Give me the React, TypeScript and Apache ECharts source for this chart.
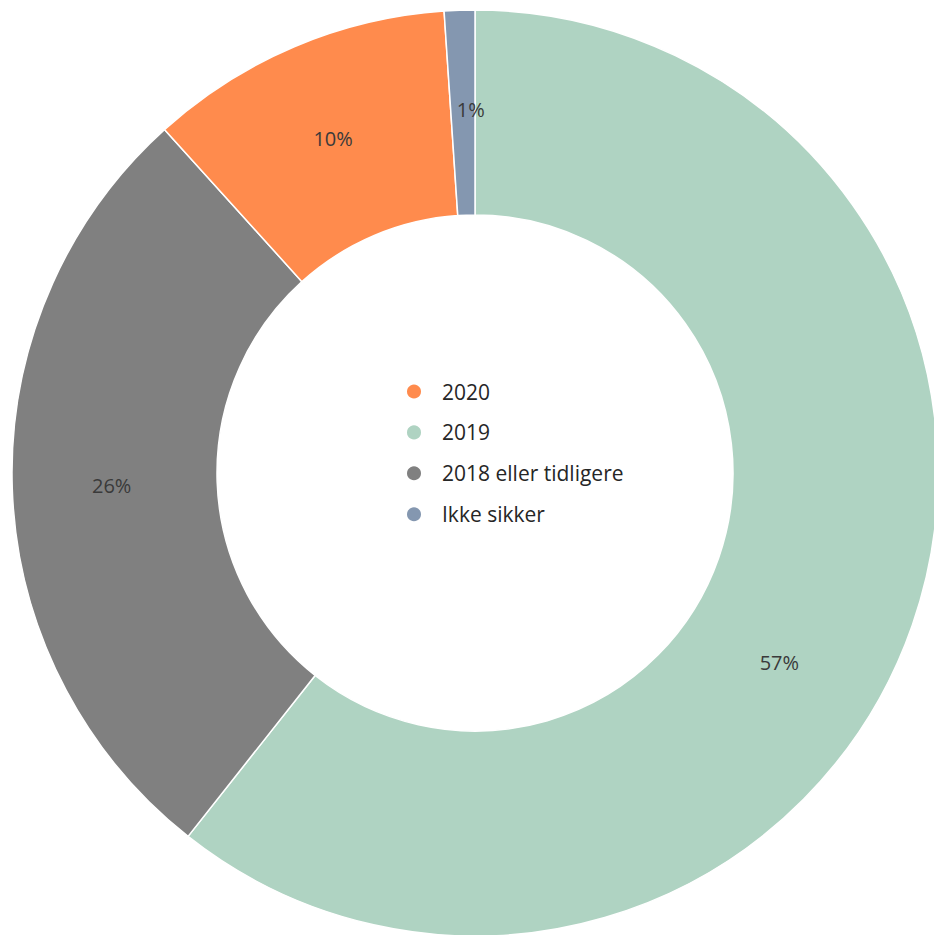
import React, { useEffect, useRef } from "react";
import * as echarts from "echarts";

const categories = ["2019", "2018 eller tidligere", "2020", "Ikke sikker"];
const values = [57, 26, 10, 1];
const legendOrder = ["2020", "2019", "2018 eller tidligere", "Ikke sikker"];
const colors = ["#AFD3C2", "#808080", "#FF8B4D", "#8497B0"];

export default function App() {
  const ref = useRef<HTMLDivElement>(null);
  useEffect(() => {
    document.body.style.margin = "0";
    const chart = echarts.init(ref.current!, null, { renderer: "svg" });
    chart.setOption({
      animation: false,
      backgroundColor: "#ffffff",
      legend: {
        data: legendOrder,
        orient: "vertical",
        left: 405,
        top: 381,
        padding: 0,
        icon: "circle",
        itemWidth: 16,
        itemHeight: 16,
        itemGap: 19.9,
        textStyle: {
          fontFamily: "Open Sans",
          fontSize: 21,
          lineHeight: 20,
          color: "#262626",
          padding: [0, 0, 0, 15],
        },
      },
      series: [
        {
          type: "pie",
          center: [475, 473],
          radius: [258, 463],
          startAngle: 90,
          clockwise: true,
          avoidLabelOverlap: false,
          itemStyle: { borderColor: "#ffffff", borderWidth: 1.5 },
          label: {
            show: true,
            position: "inside",
            formatter: (p: any) => p.value + "%",
            fontFamily: "Open Sans",
            fontSize: 20,
            color: "#3a3a3a",
          },
          labelLayout: (p: any) =>
            p.dataIndex === 0 ? { dx: -39, dy: 70 } : p.dataIndex === 3 ? { dx: 8 } : {},
          labelLine: { show: false },
          emphasis: { disabled: true },
          data: categories.map((c, i) => ({ name: c, value: values[i], itemStyle: { color: colors[i] } })),
        },
      ],
    });
    return () => chart.dispose();
  }, []);
  return <div ref={ref} style={{ width: 934, height: 935 }} />;
}
